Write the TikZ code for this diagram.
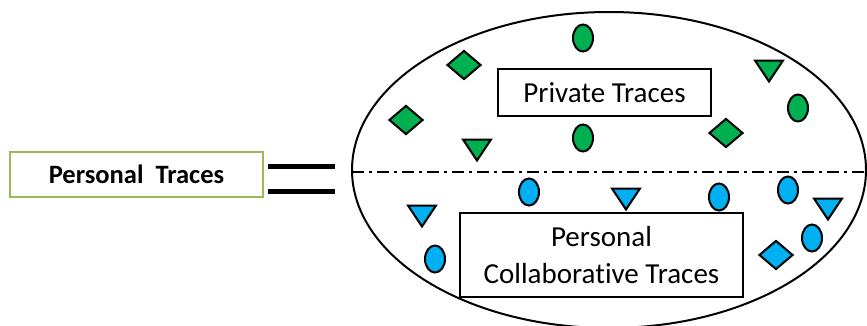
\documentclass[tikz,border=0pt]{standalone}
\usepackage{fontspec}
\setmainfont{Carlito}[Ligatures=NoCommon]
\usepackage{tikz}
\usetikzlibrary{shapes.geometric, positioning}

\definecolor{privgreen}{HTML}{00B050}
\definecolor{collblue}{HTML}{00B0F0}
\definecolor{boxgreen}{HTML}{9BBB59}

\tikzset{
  tracebox/.style={draw, line width=1.8pt, minimum width=213pt, minimum height=47pt, font=\fontsize{29}{34}\selectfont},
  dot/.style={ellipse, draw, line width=2pt, minimum width=20pt, minimum height=27pt, inner sep=0pt},
  gem/.style={diamond, draw, line width=2pt, minimum width=34pt, minimum height=29pt, inner sep=0pt},
  tri/.style={isosceles triangle, isosceles triangle stretches, shape border rotate=-90, draw, line width=2pt, minimum width=28pt, minimum height=21pt, inner sep=0pt},
}

\begin{document}
\begin{tikzpicture}[x=1pt, y=-1pt]
    \useasboundingbox (0,0) rectangle (867,326);
    \clip (0,0) rectangle (867,326);
    % the personal traces
    \node[draw=boxgreen, line width=2pt, minimum width=253pt, minimum height=45pt,
          font=\fontsize{26.5}{31}\selectfont\bfseries] (personal) at (136.5,174.5) {Personal\ \ Traces};
    \draw[line width=5pt] (268,166) -- (335,166)
                          (268,191) -- (335,191);
    % big ellipse split in two halves
    \draw[line width=2pt] (609,170) ellipse [x radius=257pt, y radius=158pt];
    \draw[line width=2.8pt, dash pattern=on 12pt off 5pt on 3pt off 5pt] (352,172) -- (867,172);
    \node[tracebox] (private) at (604.5,92.5) {Private Traces};
    \node[tracebox, minimum width=283pt, minimum height=84pt, align=center,
          font=\fontsize{29}{37}\selectfont] (collab) at (601.5,255) {Personal\\Collaborative Traces};
    % green traces
    \foreach \x/\y in {583/38, 583/138, 798/108}
      \node[dot, fill=privgreen] at (\x,\y) {};
    \foreach \x/\y in {464/65, 406/120, 726/133}
      \node[gem, fill=privgreen] at (\x,\y) {};
    \foreach \x/\y in {477/147, 769/68}
      \node[tri, fill=privgreen] at (\x,\y) {};
    % blue traces
    \foreach \x/\y in {435/259, 529/192, 719/197, 788/190, 812/238}
      \node[dot, fill=collblue] at (\x,\y) {};
    \foreach \x/\y in {776/255}
      \node[gem, fill=collblue] at (\x,\y) {};
    \foreach \x/\y in {422/213, 626/196, 828/206}
      \node[tri, fill=collblue] at (\x,\y) {};
\end{tikzpicture}
\end{document}
